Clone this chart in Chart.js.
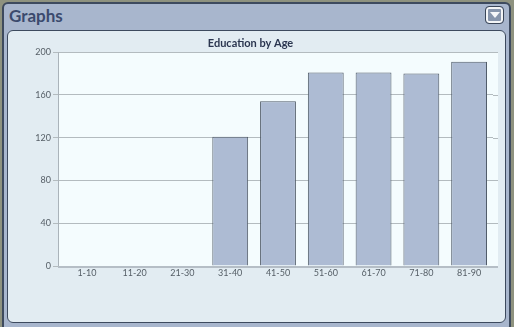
<!DOCTYPE html>
<html>
<head>
<meta charset="utf-8">
<script src="https://cdn.jsdelivr.net/npm/chart.js@4"></script>
<style>
  html, body { margin: 0; padding: 0; }
  body { width: 514px; height: 327px; background: #8e927f; position: relative; overflow: hidden; font-family: Lato, "Open Sans", sans-serif; }
  #panel { position: absolute; left: 2px; top: 2px; width: 509px; height: 330px; background: #a8b6cd; border: 2px solid #3d4a5e; border-radius: 6px; box-sizing: border-box; }
  #head { position: absolute; left: 9px; top: 5px; font-size: 17px; font-weight: bold; color: #3b4a6d; }
  #btn { position: absolute; left: 485px; top: 6px; width: 19px; height: 18px; border: 1px solid #3a4658; border-radius: 4px; background: #8795ac; box-shadow: inset 0 0 0 2px #f3f5f7; box-sizing: border-box; }
  #btn:after { content: ""; position: absolute; left: 4px; top: 5px; border-left: 5px solid transparent; border-right: 5px solid transparent; border-top: 6px solid #f6f7f9; }
  #card { position: absolute; left: 7px; top: 30px; width: 499px; height: 293px; background: #e2ecf2; border: 1px solid #3d4a5e; border-radius: 6px; box-sizing: border-box; }
  #wrap { position: absolute; left: 8px; top: 31px; width: 497px; height: 291px; }
</style>
</head>
<body>
<div id="panel"></div>
<div id="head">Graphs</div>
<div id="btn"></div>
<div id="card"></div>
<div id="wrap"><canvas id="bar-chart"></canvas></div>
<script>
const ageGroups = ["1-10", "11-20", "21-30", "31-40", "41-50", "51-60", "61-70", "71-80", "81-90"];
const educationCounts = [0, 0, 0, 121, 154, 181, 181, 180, 191];
const yTicks = [0, 40, 80, 120, 160, 200];

// the plot frame is 5px wider than the category range on each side
const EDGE = 5;

const plotFrame = {
  id: "plotFrame",
  beforeDraw(chart) {
    const a = chart.chartArea;
    const ctx = chart.ctx;
    ctx.save();
    ctx.fillStyle = "#f4fcfe";
    ctx.fillRect(a.left - EDGE, a.top, a.right - a.left + 2 * EDGE, a.bottom - a.top);
    ctx.restore();
  },
  beforeDatasetsDraw(chart) {
    const a = chart.chartArea;
    const y = chart.scales.y;
    const ctx = chart.ctx;
    ctx.save();
    ctx.strokeStyle = "#b3bbbf";
    ctx.lineWidth = 1;
    yTicks.forEach(v => {
      const py = Math.round(y.getPixelForValue(v)) + 0.5;
      ctx.beginPath();
      ctx.moveTo(a.right, py);
      ctx.lineTo(a.right + EDGE, py);
      ctx.stroke();
    });
    // left axis line
    ctx.strokeStyle = "#aab3ba";
    ctx.beginPath();
    ctx.moveTo(a.left - EDGE + 0.5, a.top);
    ctx.lineTo(a.left - EDGE + 0.5, a.bottom);
    ctx.stroke();
    ctx.restore();
  },
  afterDatasetsDraw(chart) {
    const a = chart.chartArea;
    const ctx = chart.ctx;
    ctx.save();
    ctx.strokeStyle = "#b5bec6";
    ctx.lineWidth = 2;
    ctx.beginPath();
    ctx.moveTo(a.left - EDGE, a.bottom + 1);
    ctx.lineTo(a.right + EDGE, a.bottom + 1);
    ctx.stroke();
    ctx.restore();
  }
};

new Chart(document.getElementById("bar-chart"), {
  type: "bar",
  data: {
    labels: ageGroups,
    datasets: [
      {
        data: educationCounts,
        backgroundColor: "#adbbd3",
        borderColor: "#4f5a67",
        borderWidth: 1,
        categoryPercentage: 1,
        barPercentage: 0.75,
      },
    ],
  },
  options: {
    responsive: true,
    maintainAspectRatio: false,
    animation: false,
    layout: { padding: { left: 0, right: 12, top: 0, bottom: 0 } },
    plugins: {
      legend: { display: false },
      tooltip: { enabled: false },
      title: {
        display: true,
        text: "Education by Age",
        color: "#2b3650",
        font: { family: "Lato", size: 11, weight: "bold" },
        padding: { top: 6, bottom: 2 },
      },
    },
    scales: {
      x: {
        grid: { display: false, drawTicks: false, tickLength: 0 },
        border: { display: false },
        ticks: { color: "#555e66", font: { family: "Lato", size: 9 }, padding: 2 },
        afterFit(scale) { scale.height = 56; },
      },
      y: {
        min: 0,
        max: 200,
        afterBuildTicks(scale) { scale.ticks = yTicks.map(v => ({ value: v })); },
        grid: { color: "#b3bbbf", tickLength: 10, drawTicks: true },
        border: { display: false },
        ticks: { color: "#555e66", font: { family: "Lato", size: 9 }, padding: 2 },
        afterFit(scale) { scale.width = 55; },
      },
    },
  },
  plugins: [plotFrame],
});
</script>
</body>
</html>
